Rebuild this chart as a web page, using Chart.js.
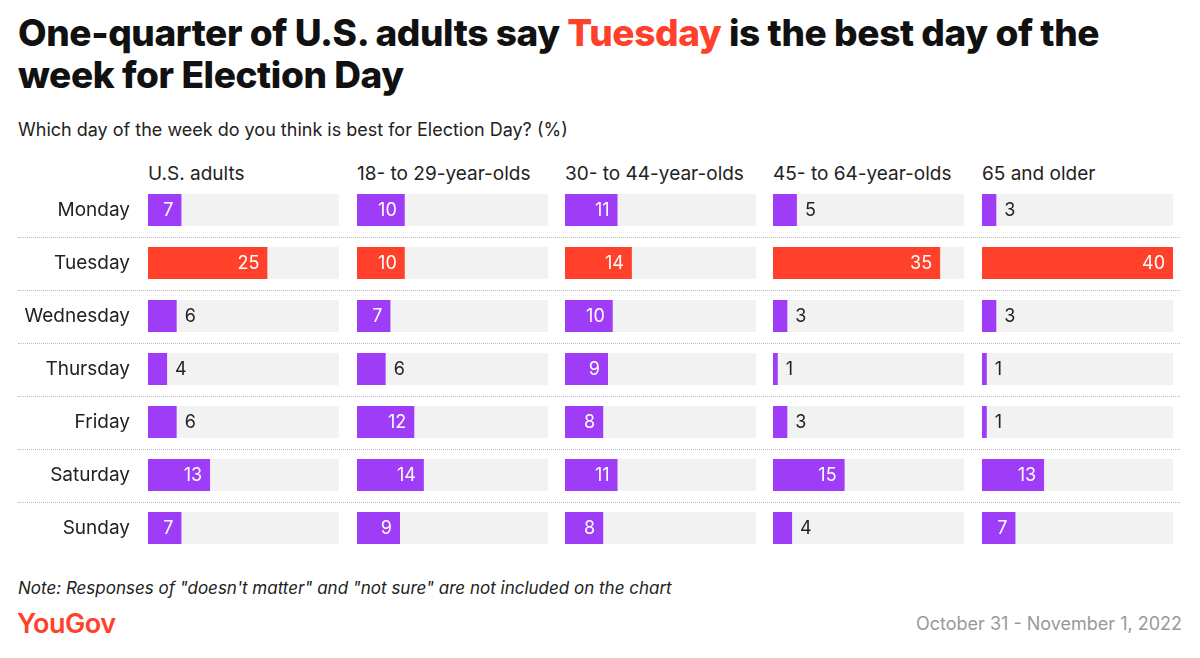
<!DOCTYPE html>
<html><head><meta charset="utf-8">
<script src="https://cdn.jsdelivr.net/npm/chart.js@4"></script>
<style>
body{margin:0;width:1200px;height:658px;background:#fff;font-family:Inter,"Noto Sans",sans-serif;position:relative;overflow:hidden;color:#111}
.t{position:absolute;left:18px;top:12px;font-size:37px;font-weight:800;line-height:42px;letter-spacing:-0.4px;margin:0}
.t span{color:#ff412c}
.sub{position:absolute;left:18px;top:119px;font-size:18px;color:#222}
.hd{position:absolute;top:162px;font-size:19px;color:#222}
.note{position:absolute;left:18px;top:578px;font-size:17px;font-style:italic;color:#222}
.logo{position:absolute;left:17px;top:607px;font-size:27px;font-weight:600;color:#ff412c;letter-spacing:-0.5px}
.date{position:absolute;right:18px;top:613px;font-size:18px;color:#999}
.sep{position:absolute;left:18px;width:1162px;border-top:1px dotted #bbb}
canvas{position:absolute;top:0}
</style></head><body>
<h1 class="t">One-quarter of U.S. adults say <span>Tuesday</span> is the best day of the<br>week for Election Day</h1>
<div class="sub">Which day of the week do you think is best for Election Day? (%)</div>
<div class="note">Note: Responses of "doesn't matter" and "not sure" are not included on the chart</div>
<div class="logo">YouGov</div>
<div class="date">October 31 - November 1, 2022</div>
<div id="wrap"></div>
<script>
const days = ['Monday','Tuesday','Wednesday','Thursday','Friday','Saturday','Sunday'];
const groups = ['U.S. adults','18- to 29-year-olds','30- to 44-year-olds','45- to 64-year-olds','65 and older'];
const usAdults = [7,25,6,4,6,13,7];
const age18to29 = [10,10,7,6,12,14,9];
const age30to44 = [11,14,10,9,8,11,8];
const age45to64 = [5,35,3,1,3,15,4];
const age65plus = [3,40,3,1,1,13,7];
const seriesList = [usAdults,age18to29,age30to44,age45to64,age65plus];
const maxScale = 40;

const PURPLE = '#9e3cf7', RED = '#ff412c', GRAY = '#f2f2f2';
const panelLeft = [148,357,565,773,982], panelW = 191;
const top0 = 183.5, rowH = 53;
const wrap = document.getElementById('wrap');

// dotted row separators
for (let i = 1; i < days.length; i++) {
  const d = document.createElement('div');
  d.className = 'sep'; d.style.top = (top0 + i*rowH) + 'px';
  wrap.appendChild(d);
}

const labelPlugin = {
  id: 'vals',
  afterDatasetsDraw(chart) {
    const ctx = chart.ctx, meta = chart.getDatasetMeta(1), data = chart.data.datasets[1].data;
    ctx.save();
    ctx.font = '18px Inter, "Noto Sans", sans-serif';
    ctx.textBaseline = 'middle';
    meta.data.forEach((bar, i) => {
      const v = data[i];
      if (v >= 7) { ctx.fillStyle = '#fff'; ctx.textAlign = 'right'; ctx.fillText(v, bar.x - 8, bar.y + 1); }
      else { ctx.fillStyle = '#222'; ctx.textAlign = 'left'; ctx.fillText(v, bar.x + 8, bar.y + 1); }
    });
    ctx.restore();
  }
};

seriesList.forEach((vals, p) => {
  const first = p === 0;
  const left = first ? 0 : panelLeft[p];
  const width = panelLeft[p] + panelW - left;
  const hd = document.createElement('div');
  hd.className = 'hd'; hd.style.left = panelLeft[p] + 'px'; hd.textContent = groups[p];
  wrap.appendChild(hd);
  const c = document.createElement('canvas');
  c.style.left = left + 'px'; c.style.width = width + 'px'; c.style.height = '658px';
  c.width = width; c.height = 658;
  wrap.appendChild(c);
  new Chart(c, {
    type: 'bar',
    data: {
      labels: days,
      datasets: [
        { data: days.map(() => maxScale), backgroundColor: GRAY, grouped: false, order: 2 },
        { data: vals, backgroundColor: days.map(d => d === 'Tuesday' ? RED : PURPLE), grouped: false, order: 1 }
      ]
    },
    options: {
      indexAxis: 'y', responsive: false, animation: false,
      layout: { padding: { top: top0, bottom: 658 - top0 - rowH*days.length, left: 0, right: 0 } },
      datasets: { bar: { categoryPercentage: 1, barPercentage: 0.6 } },
      plugins: { legend: { display: false }, tooltip: { enabled: false } },
      scales: {
        x: { min: 0, max: maxScale, display: false },
        y: {
          display: first,
          grid: { display: false }, border: { display: false },
          ticks: { color: '#222', padding: 10, font: { size: 19, family: 'Inter, "Noto Sans", sans-serif' } },
          afterFit(s) { s.width = first ? 148 : 0; }
        }
      }
    },
    plugins: [labelPlugin]
  });
});
</script>
</body></html>
